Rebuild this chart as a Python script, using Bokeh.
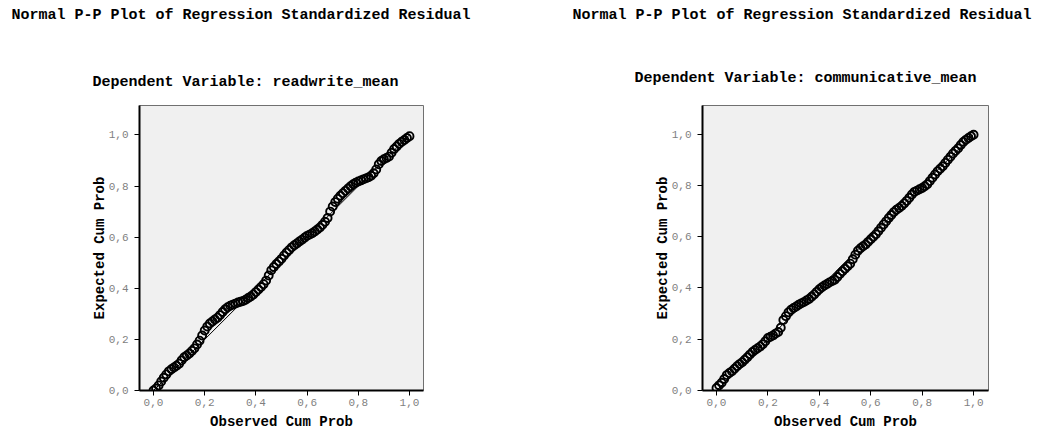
from bokeh.plotting import figure
from bokeh.layouts import row, column
from bokeh.models import FixedTicker, CustomJSTickFormatter, LinearAxis, Label, Range1d
from bokeh.embed import file_html
from bokeh.resources import INLINE

# ---------------- data ----------------
MAIN_TITLE = "Normal P-P Plot of Regression Standardized Residual"
SUB_LEFT = "Dependent Variable: readwrite_mean"
SUB_RIGHT = "Dependent Variable: communicative_mean"
X_LABEL = "Observed Cum Prob"
Y_LABEL = "Expected Cum Prob"
TICKS = [0.0, 0.2, 0.4, 0.6, 0.8, 1.0]
REF_X = [0.0, 1.0]
REF_Y = [0.0, 1.0]

obs = [round(i * 0.01, 2) for i in range(101)]

exp_readwrite = [
    0.000, 0.008, 0.020, 0.035, 0.050, 0.063, 0.075, 0.083, 0.090, 0.097,
    0.105, 0.118, 0.130, 0.137, 0.145, 0.155, 0.165, 0.180, 0.195, 0.215,
    0.235, 0.250, 0.262, 0.270, 0.278, 0.285, 0.295, 0.307, 0.318, 0.326,
    0.332, 0.336, 0.340, 0.344, 0.347, 0.350, 0.355, 0.362, 0.368, 0.376,
    0.385, 0.395, 0.405, 0.416, 0.430, 0.450, 0.470, 0.483, 0.495, 0.505,
    0.515, 0.528, 0.540, 0.550, 0.560, 0.568, 0.575, 0.583, 0.590, 0.598,
    0.605, 0.610, 0.615, 0.622, 0.630, 0.638, 0.648, 0.660, 0.675, 0.700,
    0.720, 0.737, 0.750, 0.762, 0.772, 0.781, 0.790, 0.799, 0.807, 0.813,
    0.818, 0.822, 0.826, 0.830, 0.834, 0.840, 0.850, 0.865, 0.885, 0.898,
    0.905, 0.910, 0.915, 0.930, 0.945, 0.955, 0.965, 0.973, 0.980, 0.988,
    0.995,
]

exp_communicative = [
    0.010, 0.020, 0.030, 0.045, 0.060, 0.068, 0.075, 0.085, 0.095, 0.103,
    0.110, 0.120, 0.130, 0.140, 0.150, 0.158, 0.165, 0.172, 0.180, 0.192,
    0.205, 0.210, 0.215, 0.222, 0.228, 0.245, 0.275, 0.290, 0.305, 0.315,
    0.322, 0.328, 0.335, 0.340, 0.345, 0.351, 0.357, 0.366, 0.375, 0.385,
    0.395, 0.403, 0.410, 0.416, 0.422, 0.427, 0.432, 0.443, 0.455, 0.465,
    0.475, 0.485, 0.495, 0.512, 0.530, 0.545, 0.555, 0.563, 0.570, 0.580,
    0.590, 0.600, 0.610, 0.622, 0.635, 0.648, 0.660, 0.673, 0.685, 0.696,
    0.705, 0.712, 0.720, 0.730, 0.740, 0.752, 0.765, 0.775, 0.780, 0.785,
    0.790, 0.797, 0.805, 0.817, 0.830, 0.843, 0.855, 0.865, 0.875, 0.888,
    0.900, 0.912, 0.925, 0.935, 0.945, 0.958, 0.970, 0.978, 0.985, 0.992,
    0.998,
]

FONT = "Liberation Mono"
HDR_H = 90
PAGE_W = 1053


def add_text(fig, x, y, text, align):
    fig.add_layout(Label(x=x, y=y, text=text, text_font=FONT,
                         text_font_size="15px", text_font_style="bold",
                         text_align=align, text_baseline="middle",
                         text_color="black"))


header = figure(width=PAGE_W, height=HDR_H, output_backend="svg",
                toolbar_location=None, x_axis_location=None,
                y_axis_location=None,
                x_range=Range1d(0, PAGE_W), y_range=Range1d(HDR_H, 0),
                min_border=0)
header.outline_line_color = None
header.background_fill_color = "white"
header.border_fill_color = "white"
header.xgrid.visible = False
header.ygrid.visible = False
add_text(header, 11, 15, MAIN_TITLE, "left")
add_text(header, 245, 82, SUB_LEFT, "center")
add_text(header, 572, 15, MAIN_TITLE, "left")
add_text(header, 805, 78, SUB_RIGHT, "center")


def make_panel(width, mbl, mbr, mbt, xr, yr, yvals):
    p = figure(width=width, height=432 - HDR_H, x_range=xr, y_range=yr,
               output_backend="svg", toolbar_location=None,
               min_border_left=mbl, min_border_right=mbr,
               min_border_top=mbt, min_border_bottom=20)
    p.background_fill_color = "#f0f0f0"
    p.border_fill_color = "white"
    p.outline_line_color = "#707070"
    p.outline_line_width = 1
    p.xgrid.visible = False
    p.ygrid.visible = False

    fmt = CustomJSTickFormatter(code="return tick.toFixed(1).replace('.', ',');")
    for ax in (p.xaxis[0], p.yaxis[0]):
        ax.ticker = FixedTicker(ticks=TICKS)
        ax.formatter = fmt
        ax.axis_line_color = "black"
        ax.axis_line_width = 2
        ax.major_tick_line_color = "black"
        ax.major_tick_in = 0
        ax.major_tick_out = 5
        ax.minor_tick_line_color = None
        ax.major_label_text_font = FONT
        ax.major_label_text_font_size = "11px"
        ax.major_label_text_color = "#7f7f7f"
    p.yaxis.major_label_standoff = 6
    p.xaxis.major_label_standoff = 3
    p.xaxis.axis_label = X_LABEL
    p.xaxis.axis_label_text_font = FONT
    p.xaxis.axis_label_text_font_size = "14px"
    p.xaxis.axis_label_text_font_style = "bold"
    p.xaxis.axis_label_text_color = "black"
    p.xaxis.axis_label_standoff = 5

    lab_ax = LinearAxis(axis_label=Y_LABEL,
                        axis_label_text_font=FONT,
                        axis_label_text_font_size="14px",
                        axis_label_text_font_style="bold",
                        axis_label_text_color="black",
                        axis_label_standoff=-2,
                        axis_line_color=None, major_tick_line_color=None,
                        minor_tick_line_color=None,
                        major_label_text_font_size="0px",
                        ticker=FixedTicker(ticks=[]))
    p.add_layout(lab_ax, "left")

    p.line(REF_X, REF_Y, line_color="black", line_width=1)
    p.scatter(obs, yvals, marker="circle", size=8, fill_color=None,
              line_color="black", line_width=1.9)
    return p


left = make_panel(538, 139, 115, 105 - HDR_H, (-0.0547, 1.0547), (0.0, 1.115),
                  exp_readwrite)
right = make_panel(515, 164, 65, 102 - HDR_H, (-0.0545, 1.058), (0.0, 1.112),
                   exp_communicative)

layout = column(header, row(left, right))
open("out.html", "w").write(file_html(layout, INLINE))
